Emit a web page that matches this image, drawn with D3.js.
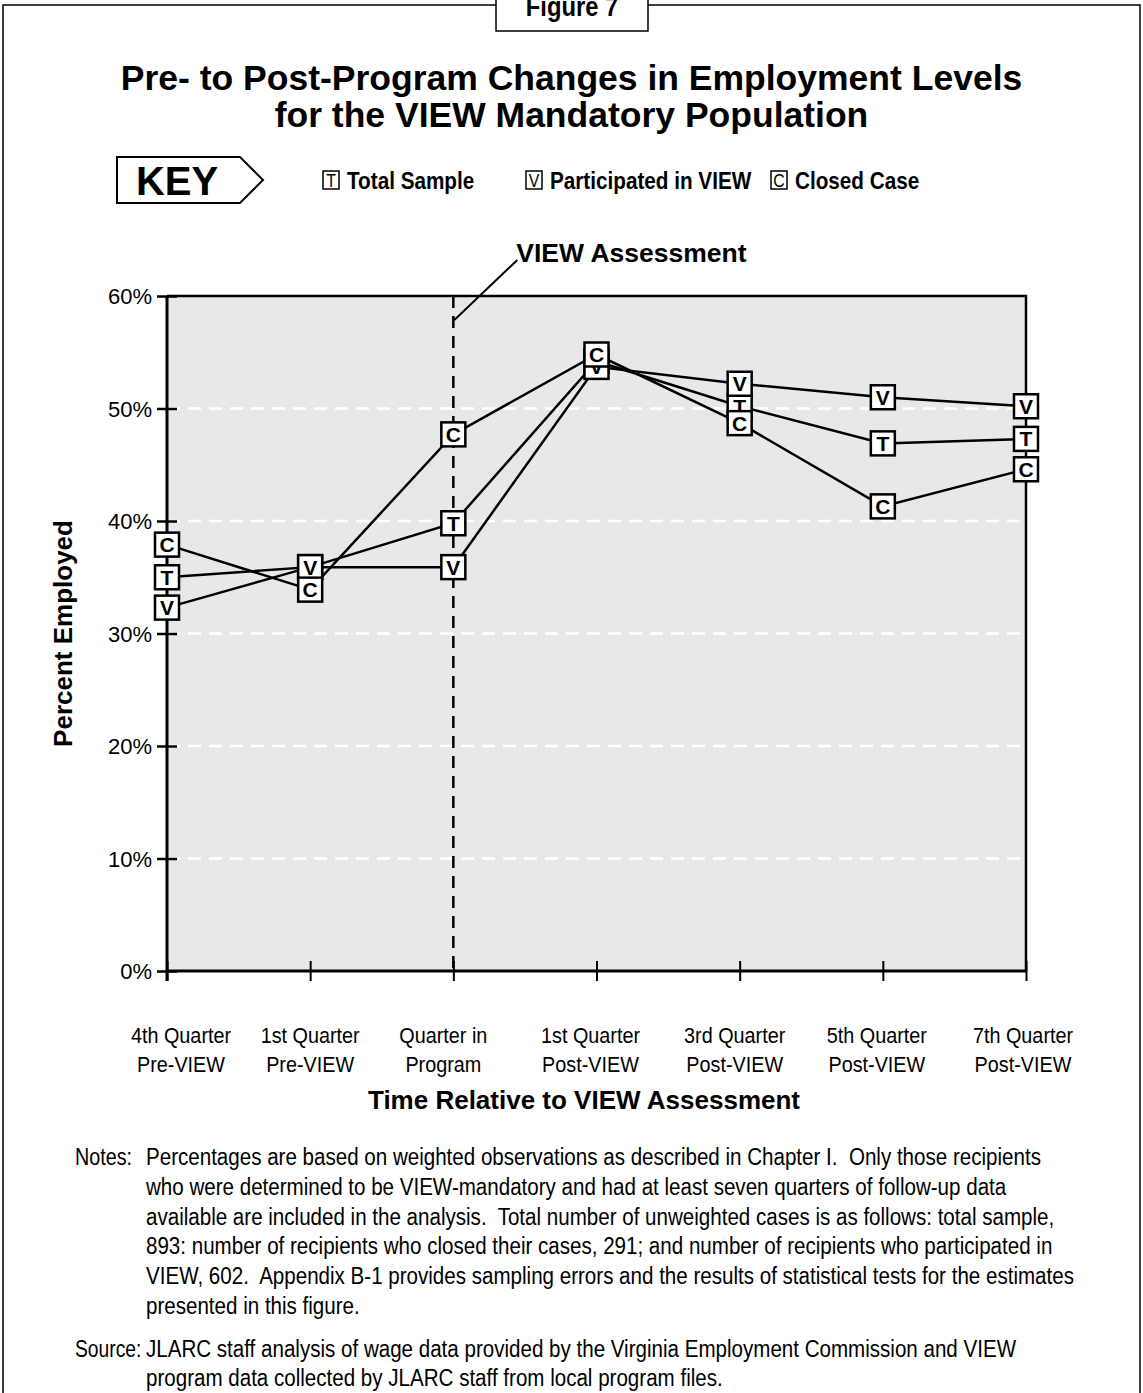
<!DOCTYPE html>
<html>
<head>
<meta charset="utf-8">
<script src="https://cdn.jsdelivr.net/npm/d3@7"></script>
<style>
  body { margin: 0; background: #fff; }
  svg { display: block; }
  text { font-family: "Liberation Sans", Arial, Helvetica, sans-serif; white-space: pre; }
</style>
</head>
<body>
<svg width="1143" height="1393"></svg>
<script>
// chart values
var categories = [
  ["4th Quarter", "Pre-VIEW"],
  ["1st Quarter", "Pre-VIEW"],
  ["Quarter in", "Program"],
  ["1st Quarter", "Post-VIEW"],
  ["3rd Quarter", "Post-VIEW"],
  ["5th Quarter", "Post-VIEW"],
  ["7th Quarter", "Post-VIEW"]
];
var totalSample   = [35.0, 35.9, 39.8, 54.2, 50.2, 46.9, 47.3];
var participated  = [32.3, 35.9, 35.9, 53.7, 52.2, 51.0, 50.2];
var closedCase    = [37.9, 33.9, 47.7, 54.8, 48.7, 41.3, 44.6];
var yTicks = [0, 10, 20, 30, 40, 50, 60];
var gridTicks = [10, 20, 30, 40, 50];
var seriesNames = ["Total Sample", "Participated in VIEW", "Closed Case"];
var seriesLetters = ["T", "V", "C"];
var notesLines = [
  "Percentages are based on weighted observations as described in Chapter I.  Only those recipients",
  "who were determined to be VIEW-mandatory and had at least seven quarters of follow-up data",
  "available are included in the analysis.  Total number of unweighted cases is as follows: total sample,",
  "893: number of recipients who closed their cases, 291; and number of recipients who participated in",
  "VIEW, 602.  Appendix B-1 provides sampling errors and the results of statistical tests for the estimates",
  "presented in this figure."
];
var sourceLines = [
  "JLARC staff analysis of wage data provided by the Virginia Employment Commission and VIEW",
  "program data collected by JLARC staff from local program files."
];

var series = [
  { letter: "T", values: totalSample },
  { letter: "V", values: participated },
  { letter: "C", values: closedCase }
];

var svg = d3.select("svg");
var W = +svg.attr("width");

var plot = { left: 167, right: 1026, top: 296, bottom: 971 };
var NARROW = 0.88; // no condensed face installed, squeeze the regular one

var x = d3.scalePoint()
  .domain(d3.range(categories.length))
  .range([plot.left, plot.right]);

var y = d3.scaleLinear()
  .domain([0, 60])
  .range([plot.bottom, plot.top]);

// text in the condensed style of the original
function narrow(parent, tx, ty, str, size, opts) {
  opts = opts || {};
  return parent.append("text")
    .attr("transform", "translate(" + tx + "," + ty + ") scale(" + (opts.k || NARROW) + ",1)")
    .attr("font-size", size)
    .attr("font-weight", opts.bold ? "bold" : null)
    .attr("text-anchor", opts.anchor || "start")
    .text(str);
}

// outer frame + figure tab
svg.append("path")
  .attr("d", "M3,1393 V5 H1140 V1393")
  .attr("fill", "none").attr("stroke", "#000").attr("stroke-width", 1.5);

svg.append("rect")
  .attr("x", 496).attr("y", -4).attr("width", 152).attr("height", 35)
  .attr("fill", "#fff").attr("stroke", "#000").attr("stroke-width", 1.5);
narrow(svg, 572, 16, "Figure 7", 27, { bold: true, anchor: "middle" });

// title
var title = svg.append("g")
  .attr("font-weight", "bold").attr("font-size", 35.5).attr("text-anchor", "middle");
title.append("text").attr("x", W / 2).attr("y", 90).text("Pre- to Post-Program Changes in Employment Levels");
title.append("text").attr("x", W / 2).attr("y", 127).text("for the VIEW Mandatory Population");

// key
var key = svg.append("g");
key.append("path")
  .attr("d", "M117,157 H240 L263,180 L240,203 H117 Z")
  .attr("fill", "#fff").attr("stroke", "#000").attr("stroke-width", 2);
narrow(key, 177, 195, "KEY", 40, { bold: true, anchor: "middle", k: 1 });

var legendX = [323, 526, 771];
seriesNames.forEach(function(name, i) {
  var g = key.append("g").attr("transform", "translate(" + legendX[i] + ",171)");
  g.append("rect")
    .attr("width", 16).attr("height", 18)
    .attr("fill", "#fff").attr("stroke", "#000").attr("stroke-width", 1.5);
  narrow(g, 8, 16, seriesLetters[i], 18, { anchor: "middle" });
  narrow(g, 24, 18, name, 23, { bold: true, k: 0.9 });
});

// plot background
svg.append("rect")
  .attr("x", plot.left).attr("y", plot.top)
  .attr("width", plot.right - plot.left).attr("height", plot.bottom - plot.top)
  .attr("fill", "#e8e8e8");

// grid lines
svg.append("g")
  .selectAll("line")
  .data(gridTicks)
  .enter().append("line")
  .attr("x1", plot.left).attr("x2", plot.right)
  .attr("y1", d => y(d)).attr("y2", d => y(d))
  .attr("stroke", "#fff").attr("stroke-width", 2.5)
  .attr("stroke-dasharray", "13,8");

// top & right border
svg.append("path")
  .attr("d", "M" + plot.left + "," + plot.top + " H" + plot.right + " V" + plot.bottom)
  .attr("fill", "none").attr("stroke", "#000").attr("stroke-width", 2.5);

// VIEW assessment line and callout
var xa = x(2);
svg.append("line")
  .attr("x1", xa).attr("x2", xa)
  .attr("y1", plot.top).attr("y2", plot.bottom)
  .attr("stroke", "#000").attr("stroke-width", 2.5)
  .attr("stroke-dasharray", "12,8");
svg.append("line")
  .attr("x1", xa + 64).attr("y1", 260)
  .attr("x2", xa + 1).attr("y2", plot.top + 24)
  .attr("stroke", "#000").attr("stroke-width", 2);
svg.append("text")
  .attr("x", xa + 63).attr("y", 262)
  .attr("font-size", 26.5).attr("font-weight", "bold")
  .text("VIEW Assessment");

// axes
var yAxis = svg.append("g")
  .attr("transform", "translate(" + plot.left + ",0)")
  .call(d3.axisLeft(y).tickValues(yTicks).tickSize(10).tickPadding(5)
    .tickFormat(d => d + "%"));
yAxis.attr("font-family", null).attr("font-size", null);
yAxis.select(".domain").remove();
yAxis.selectAll(".tick line").attr("x1", 10).attr("stroke-width", 2.5);
yAxis.selectAll(".tick text")
  .attr("font-size", 22).attr("fill", "#000").attr("dy", "0.36em");

var xAxis = svg.append("g")
  .attr("transform", "translate(0," + plot.bottom + ")")
  .call(d3.axisBottom(x).tickSize(10).tickFormat(""));
xAxis.select(".domain").remove();
xAxis.selectAll(".tick line").attr("y1", -10).attr("stroke-width", 2);

var labelShift = [14, 0, -10, -6, -5, -6, -3];
var xLabels = svg.append("g");
categories.forEach(function(c, i) {
  narrow(xLabels, x(i) + labelShift[i], 1043, c[0], 22.5, { anchor: "middle" });
  narrow(xLabels, x(i) + labelShift[i], 1072, c[1], 22.5, { anchor: "middle" });
});

svg.append("line")
  .attr("x1", plot.left).attr("x2", plot.left)
  .attr("y1", plot.top).attr("y2", plot.bottom + 10)
  .attr("stroke", "#000").attr("stroke-width", 3);
svg.append("line")
  .attr("x1", plot.left - 1).attr("x2", plot.right)
  .attr("y1", plot.bottom).attr("y2", plot.bottom)
  .attr("stroke", "#000").attr("stroke-width", 3);

// axis titles
svg.append("text")
  .attr("transform", "translate(72," + ((plot.top + plot.bottom) / 2) + ") rotate(-90)")
  .attr("text-anchor", "middle")
  .attr("font-size", 26).attr("font-weight", "bold")
  .text("Percent Employed");
svg.append("text")
  .attr("x", 584).attr("y", 1109)
  .attr("text-anchor", "middle")
  .attr("font-size", 26).attr("font-weight", "bold")
  .text("Time Relative to VIEW Assessment");

// series lines
var line = d3.line()
  .x((d, i) => x(i))
  .y(d => y(d));
svg.append("g")
  .selectAll("path")
  .data(series)
  .enter().append("path")
  .attr("d", d => line(d.values))
  .attr("fill", "none").attr("stroke", "#000").attr("stroke-width", 2.5);

// markers, T first so V and C sit on top of it
var ms = 24;
series.forEach(function(s) {
  var m = svg.append("g")
    .selectAll("g")
    .data(s.values)
    .enter().append("g")
    .attr("transform", (d, i) => "translate(" + x(i) + "," + y(d) + ")");
  m.append("rect")
    .attr("x", -ms / 2).attr("y", -ms / 2).attr("width", ms).attr("height", ms)
    .attr("fill", "#fff").attr("stroke", "#000").attr("stroke-width", 2.5);
  m.append("text")
    .attr("y", 7.5)
    .attr("text-anchor", "middle")
    .attr("font-size", 21).attr("font-weight", "bold")
    .text(s.letter);
});

// notes and source
var notes = svg.append("g");
narrow(notes, 75, 1165, "Notes:", 23.5, { k: 0.84 });
notesLines.forEach(function(l, i) {
  narrow(notes, 146, 1165 + i * 29.8, l, 23.5, { k: 0.875 });
});
narrow(notes, 75, 1357, "Source:", 23.5, { k: 0.82 });
sourceLines.forEach(function(l, i) {
  narrow(notes, 146, 1357 + i * 29, l, 23.5, { k: 0.875 });
});
</script>
</body>
</html>
